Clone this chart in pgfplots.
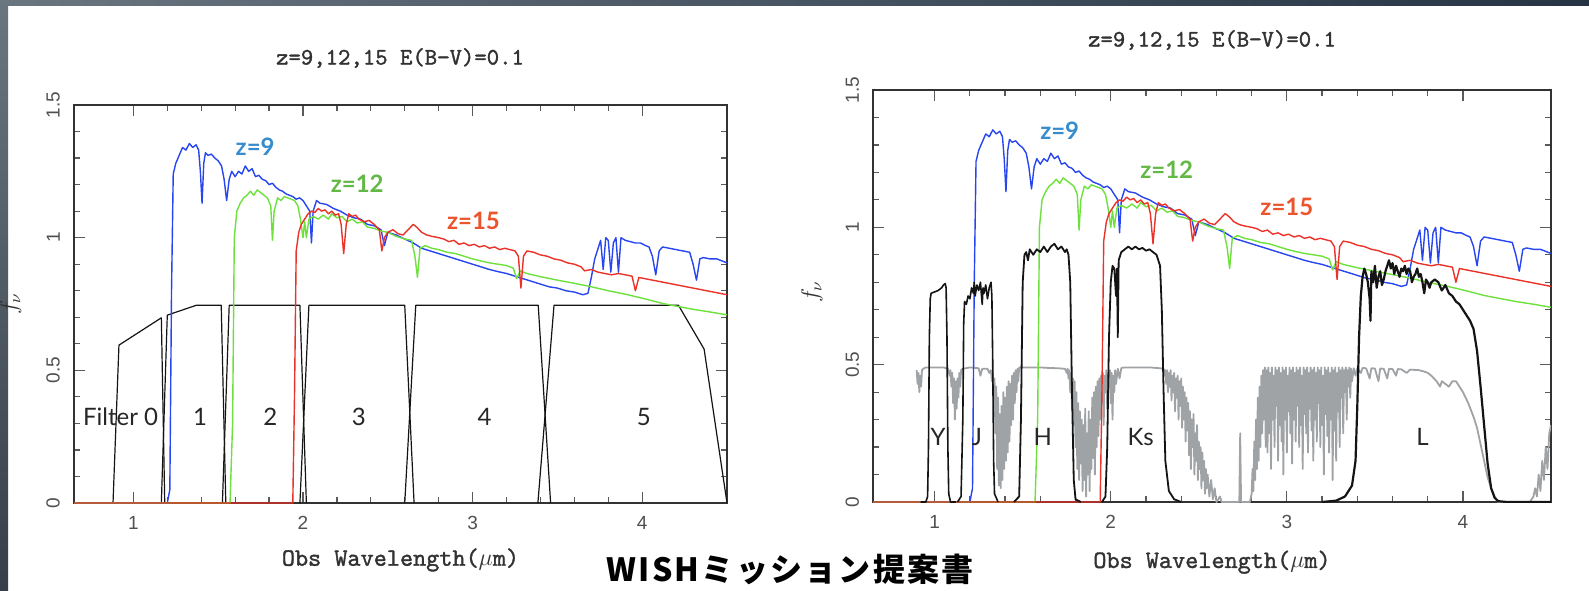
\documentclass[border=0pt]{standalone}
\usepackage{pgfplots}
\pgfplotsset{compat=1.18}
\usepackage{pgfplotstable}
\usepackage{fontspec}
\setmainfont{Liberation Sans}
\newfontfamily\gillfont{Lato}
\newfontfamily\cjkfont[LetterSpace=7]{Noto Sans CJK JP}
\newfontfamily\plotmono[FakeBold=1.4]{lmmono10-regular.otf}

\definecolor{specblue}{RGB}{40,70,240}
\definecolor{specgreen}{RGB}{110,225,60}
\definecolor{specred}{RGB}{235,50,40}
\definecolor{labblue}{RGB}{55,140,205}
\definecolor{labgreen}{RGB}{100,185,70}
\definecolor{labred}{RGB}{235,85,45}
\definecolor{atmgray}{RGB}{160,163,166}
\definecolor{filtblack}{RGB}{20,20,20}
\definecolor{framegray}{RGB}{50,50,50}
\definecolor{tickgray}{RGB}{90,90,90}
\definecolor{ticktext}{RGB}{80,80,80}
\definecolor{labelgray}{RGB}{50,50,50}
\definecolor{slideA}{RGB}{105,117,127}
\definecolor{slideB}{RGB}{38,52,68}
\definecolor{slideC}{RGB}{55,63,72}

\tikzset{
  zlab/.style={font=\gillfont\bfseries\fontsize{12}{14}\selectfont},
  flab/.style={font=\gillfont\fontsize{12}{14}\selectfont, text=black!85},
}

\pgfplotstableread{
x y
0.65 0
1.20 0
1.215 0.05
1.225 0.8
1.235 1.24
1.25 1.28
1.27 1.31
1.29 1.34
1.31 1.33
1.33 1.355
1.35 1.34
1.37 1.35
1.385 1.33
1.395 1.25
1.405 1.13
1.415 1.28
1.425 1.32
1.44 1.31
1.46 1.315
1.48 1.30
1.50 1.29
1.52 1.27
1.535 1.22
1.55 1.14
1.565 1.22
1.58 1.25
1.60 1.23
1.62 1.25
1.64 1.24
1.66 1.27
1.68 1.25
1.70 1.26
1.72 1.23
1.74 1.235
1.76 1.22
1.78 1.215
1.80 1.20
1.82 1.205
1.84 1.19
1.86 1.18
1.88 1.175
1.90 1.165
1.92 1.16
1.94 1.155
1.96 1.145
1.98 1.15
2.00 1.14
2.02 1.12
2.04 1.10
2.05 0.98
2.06 1.10
2.08 1.14
2.10 1.13
2.14 1.125
2.18 1.11
2.22 1.10
2.26 1.085
2.30 1.075
2.34 1.07
2.38 1.05
2.42 1.045
2.46 1.03
2.48 0.97
2.50 1.02
2.55 1.01
2.60 0.995
2.65 0.98
2.70 0.96
2.75 0.95
2.80 0.94
2.85 0.93
2.90 0.92
2.95 0.91
3.00 0.90
3.05 0.89
3.10 0.88
3.15 0.872
3.20 0.865
3.25 0.855
3.30 0.845
3.35 0.835
3.40 0.825
3.45 0.815
3.50 0.81
3.55 0.80
3.60 0.795
3.65 0.785
3.68 0.79
3.70 0.85
3.72 0.92
3.74 0.96
3.755 0.99
3.77 0.88
3.785 1.00
3.80 0.99
3.815 0.87
3.83 0.98
3.845 1.00
3.86 0.87
3.875 1.00
3.90 0.99
3.93 0.985
3.96 0.98
3.99 0.98
4.02 0.97
4.04 0.965
4.06 0.93
4.08 0.86
4.10 0.95
4.12 0.965
4.16 0.96
4.20 0.955
4.24 0.95
4.28 0.945
4.30 0.90
4.32 0.84
4.34 0.92
4.36 0.925
4.40 0.92
4.44 0.92
4.48 0.91
4.50 0.905
}\bluedata

\pgfplotstableread{
x y
0.65 0
1.57 0
1.585 0.3
1.595 1.0
1.61 1.10
1.63 1.13
1.65 1.15
1.67 1.16
1.69 1.175
1.71 1.16
1.73 1.18
1.75 1.17
1.77 1.16
1.79 1.15
1.81 1.12
1.82 0.99
1.83 1.10
1.85 1.15
1.87 1.14
1.89 1.155
1.91 1.15
1.93 1.145
1.95 1.14
1.97 1.12
1.985 1.07
2.00 1.00
2.01 1.06
2.02 1.00
2.035 1.07
2.06 1.08
2.09 1.07
2.12 1.085
2.15 1.07
2.17 1.09
2.20 1.075
2.23 1.08
2.26 1.06
2.29 1.07
2.32 1.055
2.35 1.06
2.38 1.04
2.42 1.035
2.46 1.025
2.50 1.02
2.55 1.005
2.60 0.995
2.64 0.99
2.66 0.93
2.675 0.85
2.69 0.96
2.72 0.97
2.76 0.96
2.80 0.955
2.85 0.945
2.90 0.94
2.95 0.93
3.00 0.92
3.05 0.912
3.10 0.905
3.15 0.90
3.20 0.895
3.24 0.885
3.26 0.845
3.28 0.875
3.32 0.865
3.40 0.853
3.50 0.84
3.60 0.828
3.70 0.815
3.80 0.80
3.90 0.787
4.00 0.772
4.12 0.752
4.20 0.742
4.30 0.73
4.40 0.72
4.50 0.709
}\greendata

\pgfplotstableread{
x y
0.65 0
1.94 0
1.95 0.4
1.96 0.95
1.975 1.02
1.99 1.05
2.01 1.07
2.03 1.09
2.05 1.10
2.07 1.095
2.09 1.11
2.11 1.10
2.13 1.105
2.15 1.09
2.17 1.10
2.19 1.085
2.21 1.09
2.225 1.05
2.24 0.94
2.255 1.05
2.27 1.09
2.29 1.08
2.31 1.085
2.33 1.07
2.36 1.06
2.39 1.065
2.42 1.05
2.45 1.03
2.465 0.95
2.48 1.00
2.50 1.02
2.53 1.03
2.56 1.015
2.59 1.01
2.62 1.03
2.65 1.05
2.67 1.04
2.70 1.02
2.73 1.01
2.76 1.005
2.80 1.0
2.83 0.995
2.86 0.985
2.89 0.99
2.92 0.975
2.95 0.98
2.98 0.97
3.01 0.975
3.04 0.965
3.07 0.97
3.10 0.96
3.13 0.965
3.16 0.955
3.19 0.96
3.22 0.955
3.25 0.95
3.27 0.93
3.285 0.81
3.30 0.93
3.32 0.95
3.36 0.945
3.40 0.935
3.44 0.93
3.48 0.92
3.52 0.915
3.56 0.905
3.60 0.90
3.64 0.89
3.66 0.875
3.70 0.88
3.74 0.87
3.78 0.865
3.82 0.86
3.86 0.865
3.90 0.86
3.94 0.855
3.96 0.80
3.98 0.85
4.02 0.845
4.06 0.84
4.10 0.835
4.14 0.83
4.18 0.825
4.22 0.82
4.26 0.815
4.30 0.81
4.34 0.805
4.38 0.80
4.42 0.795
4.46 0.79
4.50 0.785
}\reddata

\pgfplotstableread{
x y
0.898 0.48
0.903 0.43
0.908 0.47
0.913 0.40
0.918 0.46
0.923 0.42
0.928 0.48
0.935 0.485
0.95 0.49
1.00 0.49
1.05 0.49
1.075 0.485
1.085 0.46
1.09 0.48
1.095 0.42
1.10 0.47
1.105 0.36
1.11 0.45
1.115 0.30
1.12 0.44
1.125 0.34
1.13 0.45
1.135 0.38
1.14 0.47
1.145 0.42
1.15 0.48
1.16 0.485
1.20 0.49
1.25 0.487
1.26 0.46
1.27 0.485
1.30 0.485
1.31 0.47
1.32 0.48
1.325 0.44
1.33 0.47
1.335 0.38
1.34 0.45
1.345 0.25
1.35 0.42
1.355 0.12
1.36 0.38
1.365 0.06
1.37 0.32
1.375 0.05
1.38 0.35
1.385 0.08
1.39 0.40
1.395 0.12
1.40 0.38
1.405 0.15
1.41 0.42
1.415 0.18
1.42 0.44
1.425 0.22
1.43 0.43
1.435 0.28
1.44 0.46
1.445 0.30
1.45 0.47
1.455 0.36
1.46 0.48
1.465 0.40
1.47 0.485
1.475 0.44
1.48 0.49
1.50 0.49
1.55 0.49
1.60 0.49
1.65 0.488
1.70 0.487
1.74 0.485
1.75 0.47
1.755 0.485
1.76 0.45
1.765 0.48
1.77 0.40
1.775 0.47
1.78 0.34
1.785 0.45
1.79 0.28
1.795 0.44
1.80 0.20
1.805 0.40
1.81 0.12
1.815 0.36
1.82 0.08
1.825 0.33
1.83 0.14
1.835 0.30
1.84 0.04
1.845 0.28
1.85 0.08
1.855 0.34
1.86 0.02
1.865 0.25
1.87 0.10
1.875 0.33
1.88 0.04
1.885 0.30
1.89 0.12
1.895 0.38
1.90 0.16
1.905 0.40
1.91 0.10
1.915 0.42
1.92 0.20
1.925 0.44
1.93 0.24
1.935 0.45
1.94 0.30
1.945 0.46
1.95 0.36
1.955 0.47
1.96 0.28
1.965 0.46
1.97 0.40
1.975 0.48
1.98 0.34
1.985 0.47
1.99 0.42
1.995 0.48
2.00 0.36
2.005 0.47
2.01 0.30
2.015 0.46
2.02 0.40
2.025 0.48
2.03 0.43
2.04 0.485
2.05 0.45
2.06 0.488
2.08 0.49
2.15 0.49
2.22 0.49
2.28 0.487
2.30 0.485
2.305 0.46
2.31 0.48
2.315 0.43
2.32 0.48
2.325 0.40
2.33 0.47
2.335 0.42
2.34 0.48
2.345 0.37
2.35 0.46
2.355 0.40
2.36 0.47
2.365 0.33
2.37 0.45
2.375 0.38
2.38 0.46
2.385 0.30
2.39 0.44
2.395 0.35
2.40 0.45
2.405 0.27
2.41 0.42
2.415 0.30
2.42 0.40
2.425 0.22
2.43 0.38
2.435 0.26
2.44 0.36
2.445 0.17
2.45 0.33
2.455 0.12
2.46 0.30
2.465 0.20
2.47 0.32
2.475 0.10
2.48 0.25
2.485 0.15
2.49 0.28
2.495 0.08
2.50 0.22
2.505 0.12
2.51 0.20
2.515 0.05
2.52 0.18
2.525 0.08
2.53 0.15
2.535 0.03
2.54 0.12
2.545 0.05
2.55 0.10
2.56 0.02
2.57 0.08
2.58 0.01
2.59 0.05
2.60 0.0
2.62 0.02
2.63 0.0
2.73 0.0
2.735 0.25
2.74 0.0
2.79 0.0
2.80 0.03
2.805 0.12
2.81 0.04
2.815 0.22
2.82 0.08
2.825 0.30
2.83 0.12
2.835 0.38
2.84 0.15
2.845 0.42
2.85 0.20
2.855 0.46
2.86 0.25
2.865 0.48
2.87 0.30
2.875 0.49
2.88 0.20
2.885 0.48
2.89 0.18
2.895 0.49
2.90 0.25
2.905 0.47
2.91 0.12
2.915 0.49
2.92 0.30
2.925 0.46
2.93 0.20
2.935 0.49
2.94 0.35
2.945 0.48
2.95 0.15
2.955 0.49
2.96 0.28
2.965 0.47
2.97 0.22
2.975 0.49
2.98 0.10
2.985 0.48
2.99 0.30
2.995 0.49
3.00 0.18
3.005 0.46
3.01 0.33
3.015 0.49
3.02 0.25
3.025 0.48
3.03 0.14
3.035 0.49
3.04 0.30
3.045 0.47
3.05 0.22
3.055 0.49
3.06 0.35
3.065 0.48
3.07 0.20
3.075 0.49
3.08 0.28
3.085 0.46
3.09 0.12
3.095 0.49
3.10 0.32
3.105 0.48
3.11 0.25
3.115 0.49
3.12 0.18
3.125 0.47
3.13 0.34
3.135 0.49
3.14 0.26
3.145 0.48
3.15 0.15
3.155 0.49
3.16 0.30
3.165 0.47
3.17 0.22
3.175 0.49
3.18 0.36
3.185 0.48
3.19 0.20
3.195 0.49
3.20 0.28
3.205 0.46
3.21 0.10
3.215 0.49
3.22 0.32
3.225 0.48
3.23 0.24
3.235 0.49
3.24 0.18
3.245 0.47
3.25 0.30
3.255 0.49
3.26 0.08
3.265 0.48
3.27 0.26
3.275 0.49
3.28 0.15
3.285 0.47
3.29 0.33
3.295 0.49
3.30 0.20
3.305 0.48
3.31 0.38
3.315 0.49
3.32 0.25
3.325 0.48
3.33 0.40
3.335 0.49
3.34 0.30
3.345 0.48
3.35 0.42
3.355 0.49
3.36 0.38
3.365 0.485
3.37 0.44
3.38 0.487
3.39 0.46
3.40 0.487
3.42 0.47
3.43 0.488
3.45 0.487
3.47 0.45
3.48 0.487
3.50 0.486
3.52 0.44
3.53 0.486
3.55 0.485
3.57 0.45
3.58 0.485
3.60 0.484
3.62 0.46
3.63 0.484
3.65 0.483
3.68 0.47
3.70 0.482
3.75 0.48
3.78 0.475
3.80 0.47
3.82 0.46
3.85 0.44
3.87 0.42
3.88 0.44
3.90 0.43
3.92 0.42
3.94 0.44
3.96 0.44
3.98 0.42
4.00 0.40
4.03 0.36
4.06 0.31
4.08 0.27
4.10 0.21
4.12 0.15
4.14 0.09
4.16 0.05
4.18 0.02
4.20 0.0
4.38 0.0
4.40 0.02
4.41 0.05
4.42 0.02
4.43 0.10
4.44 0.04
4.45 0.15
4.46 0.08
4.47 0.20
4.48 0.12
4.49 0.25
4.50 0.28
}\graydata

\pgfplotsset{panel/.style={
  scale only axis, anchor=south west,
  xmin=0.65, xmax=4.5, ymin=0, ymax=1.5,
  xtick={1,2,3,4}, ytick={0,0.5,1,1.5},
  minor x tick num=4, minor y tick num=4,
  tick align=inside,
  major tick length=5.5pt, minor tick length=3pt,
  axis line style={draw=framegray, line width=0.8pt},
  every tick/.style={tickgray, line width=0.6pt},
  /pgf/number format/assume math mode=true,
  ticklabel style={font=\fontsize{9.5}{11}\selectfont, text=ticktext},
  yticklabel style={rotate=90, anchor=south, yshift=3.5pt},
  xticklabel style={yshift=-3pt},
  xlabel={Obs Wavelength($\mu$m)},
  ylabel={$f_\nu$},
  xlabel style={font=\plotmono\fontsize{12.5}{14}\selectfont, text=labelgray, anchor=center},
  ylabel style={font=\fontsize{12}{14}\selectfont, text=labelgray, anchor=center},
  every axis plot/.append style={line join=round},
}}

\begin{document}
\begin{tikzpicture}
\useasboundingbox (0pt,0pt) rectangle (794.5pt,295pt);
\fill[white] (0pt,0pt) rectangle (794.5pt,295pt);
\shade[left color=slideA, right color=slideB] (0pt,292pt) rectangle (794.5pt,295pt);
\shade[top color=slideA, bottom color=slideC] (0pt,0pt) rectangle (4pt,295pt);

% ---------- left panel ----------
\begin{axis}[panel, at={(37pt,43.5pt)}, width=326.5pt, height=199pt,
  xlabel style={at={(axis description cs:0.5,-0.143)}},
  ylabel style={at={(axis description cs:-0.097,0.5)}}]
\addplot[filtblack, line width=0.6pt] coordinates {(0.88,0) (0.915,0.595) (1.165,0.698) (1.185,0)};
\addplot[filtblack, line width=0.6pt] coordinates {(1.165,0) (1.20,0.708) (1.37,0.745) (1.518,0.745) (1.545,0)};
\addplot[filtblack, line width=0.6pt] coordinates {(1.525,0) (1.565,0.745) (1.982,0.745) (2.02,0)};
\addplot[filtblack, line width=0.6pt] coordinates {(1.982,0) (2.035,0.745) (2.60,0.745) (2.655,0)};
\addplot[filtblack, line width=0.6pt] coordinates {(2.60,0) (2.665,0.745) (3.387,0.745) (3.46,0)};
\addplot[filtblack, line width=0.6pt] coordinates {(3.385,0) (3.48,0.745) (4.214,0.745) (4.365,0.58) (4.5,0)};
\addplot[specblue, line width=0.7pt] table {\bluedata};
\addplot[specgreen, line width=0.7pt] table {\greendata};
\addplot[specred, line width=0.7pt] table {\reddata};
\node[zlab, text=labblue] at (axis cs:1.718,1.341) {z=9};
\node[zlab, text=labgreen] at (axis cs:2.32,1.202) {z=12};
\node[zlab, text=labred] at (axis cs:3.005,1.063) {z=15};
\node[flab] at (axis cs:0.925,0.324) {Filter 0};
\node[flab] at (axis cs:1.394,0.324) {1};
\node[flab] at (axis cs:1.807,0.324) {2};
\node[flab] at (axis cs:2.33,0.324) {3};
\node[flab] at (axis cs:3.07,0.324) {4};
\node[flab] at (axis cs:4.01,0.324) {5};
\end{axis}

% ---------- right panel ----------
\begin{axis}[panel, at={(436.5pt,44pt)}, width=339pt, height=206pt,
  xlabel style={at={(axis description cs:0.5,-0.146)}},
  ylabel style={at={(axis description cs:-0.09,0.51)}}]
\addplot[atmgray, line width=0.9pt] table {\graydata};
\addplot[specblue, line width=0.7pt] table {\bluedata};
\addplot[specgreen, line width=0.7pt] table {\greendata};
\addplot[specred, line width=0.7pt] table {\reddata};
% Y
\addplot[filtblack, line width=0.8pt] coordinates {(0.92,0) (0.95,0) (0.96,0.02) (0.965,0.2) (0.97,0.6) (0.975,0.74) (0.98,0.76) (1.0,0.765) (1.02,0.77) (1.04,0.78) (1.05,0.79) (1.06,0.795) (1.065,0.78) (1.07,0.6) (1.075,0.2) (1.08,0.03) (1.09,0) (1.12,0)};
% J
\addplot[filtblack, line width=0.8pt] coordinates {(1.13,0) (1.15,0.02) (1.16,0.3) (1.165,0.65) (1.17,0.73) (1.18,0.72) (1.19,0.75) (1.20,0.74) (1.21,0.78) (1.22,0.76) (1.225,0.8) (1.23,0.75) (1.24,0.79) (1.25,0.77) (1.26,0.8) (1.27,0.72) (1.275,0.78) (1.28,0.76) (1.29,0.79) (1.30,0.74) (1.31,0.78) (1.32,0.8) (1.325,0.75) (1.33,0.5) (1.335,0.15) (1.34,0.03) (1.36,0)};
% H
\addplot[filtblack, line width=0.9pt] coordinates {(1.45,0) (1.48,0.02) (1.49,0.3) (1.50,0.8) (1.51,0.9) (1.52,0.91) (1.53,0.88) (1.54,0.92) (1.56,0.9) (1.58,0.92) (1.60,0.91) (1.62,0.93) (1.64,0.91) (1.66,0.93) (1.68,0.94) (1.70,0.92) (1.72,0.93) (1.74,0.91) (1.75,0.92) (1.76,0.9) (1.77,0.8) (1.78,0.4) (1.79,0.08) (1.80,0.01) (1.83,0)};
% Ks
\addplot[filtblack, line width=0.9pt] coordinates {(1.95,0) (1.97,0.02) (1.98,0.2) (1.99,0.6) (2.0,0.8) (2.01,0.86) (2.02,0.85) (2.03,0.75) (2.035,0.85) (2.04,0.6) (2.045,0.88) (2.06,0.91) (2.08,0.92) (2.10,0.93) (2.12,0.92) (2.14,0.93) (2.16,0.92) (2.18,0.925) (2.20,0.915) (2.22,0.92) (2.24,0.91) (2.26,0.9) (2.27,0.88) (2.28,0.86) (2.29,0.7) (2.30,0.4) (2.31,0.15) (2.33,0.04) (2.36,0.01) (2.40,0)};
% L
\addplot[filtblack, line width=1.1pt] coordinates {(3.20,0) (3.28,0.005) (3.33,0.02) (3.37,0.06) (3.39,0.15) (3.40,0.35) (3.41,0.6) (3.42,0.75) (3.43,0.82) (3.44,0.85) (3.45,0.83) (3.46,0.80) (3.47,0.74) (3.475,0.66) (3.48,0.84) (3.49,0.80) (3.50,0.86) (3.51,0.78) (3.52,0.82) (3.53,0.84) (3.54,0.79) (3.55,0.81) (3.56,0.84) (3.57,0.86) (3.58,0.88) (3.59,0.85) (3.60,0.87) (3.61,0.83) (3.62,0.86) (3.63,0.84) (3.64,0.82) (3.65,0.85) (3.66,0.84) (3.67,0.86) (3.68,0.83) (3.69,0.85) (3.70,0.84) (3.71,0.80) (3.72,0.82) (3.73,0.83) (3.74,0.85) (3.75,0.82) (3.76,0.83) (3.77,0.80) (3.78,0.76) (3.79,0.81) (3.80,0.80) (3.81,0.78) (3.82,0.80) (3.84,0.81) (3.86,0.80) (3.88,0.77) (3.90,0.79) (3.92,0.76) (3.94,0.75) (3.96,0.73) (3.98,0.72) (4.00,0.70) (4.02,0.68) (4.04,0.66) (4.06,0.63) (4.08,0.55) (4.10,0.42) (4.12,0.28) (4.14,0.14) (4.16,0.05) (4.18,0.015) (4.20,0.003) (4.25,0) (4.5,0)};
\node[zlab, text=labblue] at (axis cs:1.71,1.353) {z=9};
\node[zlab, text=labgreen] at (axis cs:2.318,1.211) {z=12};
\node[zlab, text=labred] at (axis cs:3.0,1.073) {z=15};
\node[flab] at (axis cs:1.019,0.236) {Y};
\node[flab] at (axis cs:1.24,0.236) {J};
\node[flab] at (axis cs:1.614,0.236) {H};
\node[flab] at (axis cs:2.17,0.236) {Ks};
\node[flab] at (axis cs:3.77,0.236) {L};
\end{axis}

% titles and slide caption
\node[font=\plotmono\fontsize{11.8}{13}\selectfont, text=labelgray] at (200pt,266pt) {z=9,12,15 E(B−V)=0.1};
\node[font=\plotmono\fontsize{11.8}{13}\selectfont, text=labelgray] at (606pt,275pt) {z=9,12,15 E(B−V)=0.1};
\node[font=\cjkfont\bfseries\fontsize{16}{18}\selectfont, text=black] at (395pt,10.5pt) {WISHミッション提案書};
\end{tikzpicture}
\end{document}
